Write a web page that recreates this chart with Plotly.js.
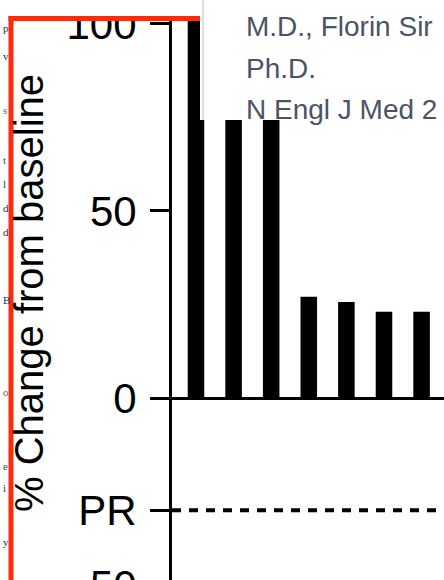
<!DOCTYPE html>
<html>
<head>
<meta charset="utf-8">
<script src="https://cdn.plot.ly/plotly-3.0.1.min.js"></script>
<style>
html,body{margin:0;padding:0;overflow:hidden;background:#fff;width:444px;height:580px;}
#chart{width:444px;height:620px;}
</style>
</head>
<body>
<div id="chart"></div>
<script>
// Data
const patients = [1, 2, 3, 4, 5, 6, 7];
const pctChange = [118, 105, 102, 27.1, 25.7, 23.1, 23.1];
const tickValues = [-50, -30, 0, 50, 100];
const tickLabels = ['-50', 'PR', '0', '50', '100'];
const prThreshold = -30;
const yTitle = '% Change from baseline';
const overlayLines = ['M.D., Florin Sir', 'Ph.D.', 'N Engl J Med 2'];
const marginLetters = ['p', 'v', 's', 't', 'l', 'd', 'd', 'B', 'o', 'e', 'i', 'y'];

// layout helpers (pixel -> paper)
const L = 172, W = 444, H = 620, PW = W - L;
const px = x => (x - L) / PW;
const py = y => 1 - y / H;

const trace = {
  type: 'bar',
  x: patients,
  y: pctChange,
  marker: {color: '#000', line: {width: 0}},
  hoverinfo: 'skip'
};

const shapes = [
  // PR dashed reference line
  {type: 'line', xref: 'paper', yref: 'y', x0: 0, x1: 1, y0: prThreshold, y1: prThreshold,
   line: {color: '#000', width: 4, dash: '9px,8px'}},
  // white overlay box (top right)
  {type: 'rect', xref: 'paper', yref: 'paper', layer: 'above',
   x0: px(200), x1: px(446), y0: py(120), y1: py(-2),
   fillcolor: '#fff', line: {width: 0}},
  {type: 'line', xref: 'paper', yref: 'paper', layer: 'above',
   x0: px(203), x1: px(203), y0: py(120), y1: py(-2),
   line: {color: '#d4d4d4', width: 1.5}},
  // white strip above red frame
  {type: 'rect', xref: 'paper', yref: 'paper', layer: 'above',
   x0: px(-2), x1: px(200), y0: py(17), y1: py(-2),
   fillcolor: '#fff', line: {width: 0}},
  // white strip left of red frame
  {type: 'rect', xref: 'paper', yref: 'paper', layer: 'above',
   x0: px(-2), x1: px(9), y0: py(622), y1: py(-2),
   fillcolor: '#fff', line: {width: 0}},
  // red frame
  {type: 'line', xref: 'paper', yref: 'paper', layer: 'above',
   x0: px(8.5), x1: px(200), y0: py(18.5), y1: py(18.5),
   line: {color: '#ff2a0a', width: 5}},
  {type: 'line', xref: 'paper', yref: 'paper', layer: 'above',
   x0: px(11), x1: px(11), y0: py(16), y1: py(622),
   line: {color: '#ff2a0a', width: 5}}
];

const annotations = [
  {xref: 'paper', yref: 'paper', x: px(29), y: py(293), text: yTitle, textangle: -90,
   showarrow: false, xanchor: 'center', yanchor: 'middle',
   font: {family: 'Liberation Sans, Arial, sans-serif', size: 40, color: '#000'}}
];
const lineY = [38, 80, 121];
overlayLines.forEach((t, i) => {
  annotations.push({xref: 'paper', yref: 'paper', x: px(244), y: py(lineY[i] + 6),
    text: t, showarrow: false, xanchor: 'left', yanchor: 'bottom',
    font: {family: 'Liberation Sans, Arial, sans-serif', size: 28, color: '#4c5364'}});
});
const letterY = [28, 56, 110, 160, 184, 208, 232, 300, 392, 466, 488, 542];
const letterC = ['#223355', '#223355', '#8a5a2a', '#335577', '#223355', '#223355', '#442222', '#223355', '#8a5a2a', '#335577', '#223355', '#223355'];
marginLetters.forEach((t, i) => {
  annotations.push({xref: 'paper', yref: 'paper', x: px(1), y: py(letterY[i]),
    text: t, showarrow: false, xanchor: 'left', yanchor: 'middle',
    font: {family: 'Liberation Serif, serif', size: 11, color: letterC[i]}});
});

const layout = {
  width: W, height: H,
  margin: {l: L, r: 0, t: 0, b: 0, pad: 0},
  paper_bgcolor: '#fff', plot_bgcolor: '#fff',
  showlegend: false,
  bargap: 0.56,
  xaxis: {range: [0.362, 7.596], visible: false, fixedrange: true},
  yaxis: {
    range: [-59.33, 106.4],
    tickvals: tickValues, ticktext: tickLabels,
    ticks: 'outside', ticklen: 19, tickwidth: 3, tickcolor: '#000',
    ticklabelstandoff: 5,
    showline: true, linewidth: 3, linecolor: '#000',
    showgrid: false,
    zeroline: true, zerolinewidth: 3, zerolinecolor: '#000',
    tickfont: {family: 'Liberation Sans, Arial, sans-serif', size: 42, color: '#000'},
    fixedrange: true
  },
  shapes: shapes,
  annotations: annotations
};

Plotly.newPlot('chart', [trace], layout, {displayModeBar: false, staticPlot: true});
</script>
</body>
</html>
